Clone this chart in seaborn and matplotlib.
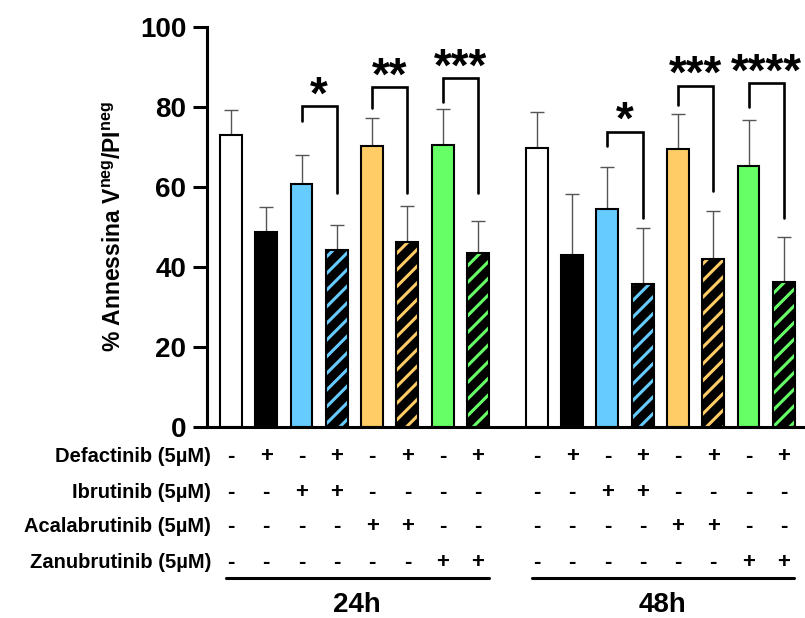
import numpy as np
import pandas as pd
import seaborn as sns
import matplotlib.pyplot as plt
from matplotlib.patches import Rectangle

# valori (media, barra d'errore superiore)
means_24h = [73.0, 48.7, 60.7, 44.2, 70.3, 46.2, 70.5, 43.4]
err_24h = [6.3, 6.3, 7.3, 6.3, 7.0, 9.1, 8.9, 8.2]
means_48h = [69.7, 43.0, 54.4, 35.8, 69.4, 41.9, 65.3, 36.3]
err_48h = [9.1, 15.2, 10.7, 13.9, 8.9, 12.2, 11.4, 11.1]

conditions = ["ctrl", "def", "ibr", "ibr+def", "aca", "aca+def", "zan", "zan+def"]
bar_colors = ["#FFFFFF", "#000000", "#66CCFF", "#66CCFF", "#FFCC66", "#FFCC66", "#66FF66", "#66FF66"]
hatched = [False, False, False, True, False, True, False, True]

row_labels = ["Defactinib (5µM)", "Ibrutinib (5µM)", "Acalabrutinib (5µM)", "Zanubrutinib (5µM)"]
signs = [
    ["-", "+", "-", "+", "-", "+", "-", "+"],
    ["-", "-", "+", "+", "-", "-", "-", "-"],
    ["-", "-", "-", "-", "+", "+", "-", "-"],
    ["-", "-", "-", "-", "-", "-", "+", "+"],
]
time_labels = ["24h", "48h"]

# confronti: (barra a, barra b), altezza parentesi, fine gamba sx, fine gamba dx, stelle
bracket_pairs = [(2, 3), (4, 5), (6, 7), (10, 11), (12, 13), (14, 15)]
bracket_top = [80.2, 84.9, 87.2, 73.8, 85.3, 85.9]
bracket_left_end = [76.5, 79.8, 81.3, 70.3, 80.5, 80.0]
bracket_right_end = [58.6, 58.6, 58.6, 52.2, 59.0, 52.2]
bracket_stars = ["*", "**", "***", "*", "***", "****"]

sns.set_style("ticks")
plt.rcParams["font.family"] = ["Liberation Sans", "DejaVu Sans"]
plt.rcParams["font.weight"] = "bold"
plt.rcParams["mathtext.fontset"] = "custom"
plt.rcParams["mathtext.bf"] = "Liberation Sans:bold"
plt.rcParams["mathtext.rm"] = "Liberation Sans:bold"
plt.rcParams["hatch.linewidth"] = 2.2
for key in ["text.color", "axes.labelcolor", "xtick.color", "ytick.color", "axes.edgecolor"]:
    plt.rcParams[key] = "black"

n = len(conditions)
pos = np.r_[np.arange(n), np.arange(n) + n + 0.67]
df = pd.DataFrame({
    "pos": pos,
    "val": means_24h + means_48h,
    "cond": conditions * 2,
})
palette = dict(zip(pos, bar_colors * 2))

fig = plt.figure(figsize=(8.05, 6.18), dpi=100)
ax = fig.add_axes([207 / 805, 1 - 427 / 618, 1 - 207 / 805, 400 / 618])

ax.errorbar(pos, df["val"], yerr=[np.zeros(len(pos)), err_24h + err_48h],
            fmt="none", ecolor="#555555", elinewidth=1.0, capsize=5, capthick=1.0, zorder=0.5)

sns.barplot(data=df, x="pos", y="val", hue="pos", palette=palette, native_scale=True,
            legend=False, width=0.62, errorbar=None, edgecolor="black", linewidth=1.5,
            saturation=1, ax=ax, zorder=1)

patches = sorted([p for p in ax.patches if isinstance(p, Rectangle)], key=lambda p: p.get_x())
for p, col, h in zip(patches, bar_colors * 2, hatched * 2):
    if h:
        p.set_facecolor("black")
        p.set_edgecolor(col)
        p.set_hatch("//")
        p.set_linewidth(0)
        ax.add_patch(Rectangle(p.get_xy(), p.get_width(), p.get_height(), fill=False,
                               edgecolor="black", linewidth=1.5, zorder=1.2))

# parentesi di significatività
for (a, b), top, le, re, s in zip(bracket_pairs, bracket_top, bracket_left_end,
                                   bracket_right_end, bracket_stars):
    xa, xb = pos[a], pos[b]
    ax.plot([xa, xa, xb, xb], [le, top, top, re], color="black", lw=1.9,
            solid_joinstyle="miter", zorder=3)
    ax.text((xa + xb) / 2, top - 0.6, s, ha="center", va="baseline",
            fontsize=33, fontweight="bold", zorder=3)

ax.set_ylim(0, 100)
ax.set_xlim(pos[0] - 0.68, pos[-1] + 0.6)
ax.set_yticks([0, 20, 40, 60, 80, 100])
ax.set_xticks([])
ax.set_xlabel("")
ax.set_ylabel(r"% Annessina V$^{\mathbf{neg}}$/PI$^{\mathbf{neg}}$", fontsize=16.5,
              fontweight="bold", labelpad=10)
ax.tick_params(axis="y", labelsize=20, width=2.2, length=10, pad=5)
for lab in ax.get_yticklabels():
    lab.set_fontweight("bold")
sns.despine(ax=ax)
ax.spines["left"].set_linewidth(2.2)
ax.spines["bottom"].set_linewidth(2.2)

# tabella dei trattamenti sotto l'asse
trans = ax.get_xaxis_transform()
row_y = [-0.075, -0.1625, -0.25, -0.3375]
for lab, row, y in zip(row_labels, signs, row_y):
    fig.text(211 / 805, 1 - (427 - y * 400) / 618, lab, ha="right", va="center",
             fontsize=14.5, fontweight="bold")
    for x, s in zip(pos, row * 2):
        ax.text(x, y, s, transform=trans, ha="center", va="center",
                fontsize=16, fontweight="bold", clip_on=False)

for g, lab in enumerate(time_labels):
    x0, x1 = pos[g * n] - 0.15, pos[g * n + n - 1] + 0.3
    ax.plot([x0, x1], [-0.3775, -0.3775], transform=trans, color="black", lw=2.2, clip_on=False)
    ax.text((x0 + x1) / 2, -0.445, lab, transform=trans, ha="center", va="center",
            fontsize=20, fontweight="bold")

plt.savefig("out.png", dpi=100)
